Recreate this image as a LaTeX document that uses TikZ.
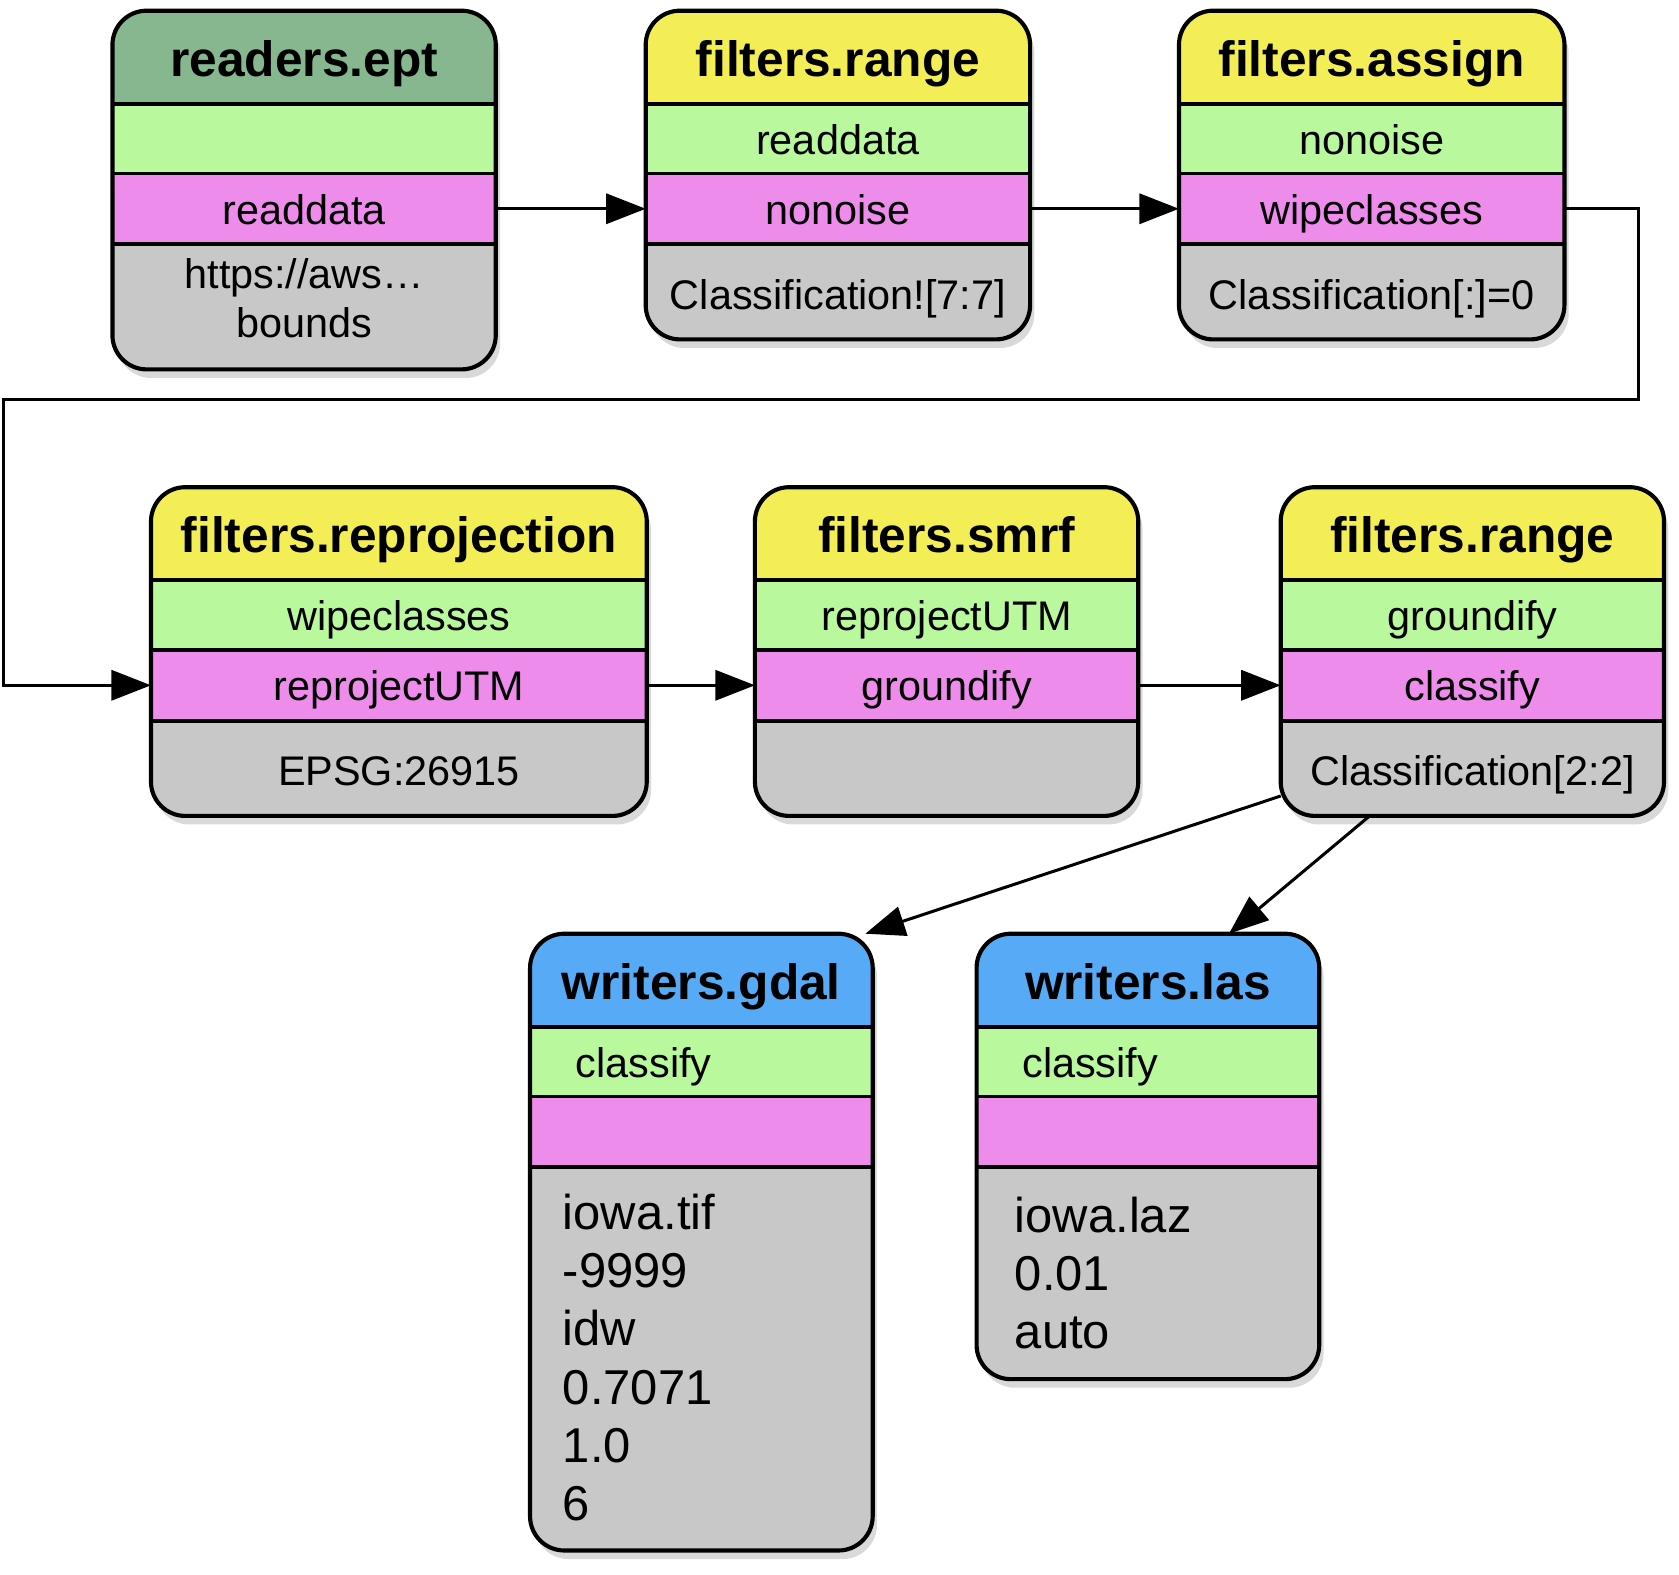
\documentclass[tikz,border=0pt]{standalone}
\usepackage{fontspec}
\setmainfont{Liberation Sans}
\usetikzlibrary{positioning}
\usetikzlibrary{shadows}
\usetikzlibrary{arrows.meta}
\definecolor{readhead}{RGB}{134,183,143}
\definecolor{filthead}{RGB}{244,238,86}
\definecolor{writhead}{RGB}{86,170,246}
\definecolor{ingreen}{RGB}{185,248,157}
\definecolor{outpink}{RGB}{238,140,236}
\definecolor{optgray}{RGB}{200,200,200}
\tikzset{ stage/.style = {rectangle, rounded corners=0.32cm, fill=white, inner sep=0pt, outer sep=0pt,
    drop shadow={shadow xshift=0.04cm, shadow yshift=-0.08cm, opacity=0.3}} }
\tikzset{ stageline/.style = {rectangle, rounded corners=0.32cm, draw, line width=1.1pt, inner sep=0pt, outer sep=0pt} }
\tikzset{ band/.style = {rectangle, draw, line width=1pt, inner sep=0pt, outer sep=0pt, align=center,
    font=\fontsize{11}{13}\selectfont, text height=8.4pt, text depth=0.2pt} }
\tikzset{ head/.style = {font=\fontsize{13.2}{15}\selectfont\bfseries, text height=10pt, text depth=0pt} }
\tikzset{ optband/.style = {text height=9.4pt, text depth=0pt} }
\tikzset{ cell/.style = {inner sep=0pt, font=\fontsize{11}{13}\selectfont, text height=8.4pt, text depth=0.2pt} }
\tikzset{ optlist/.style = {inner sep=0pt, align=left, font=\fontsize{13}{15.5}\selectfont} }
\tikzset{ flow/.style = {-{Triangle[length=10.5pt,width=8pt]}, line width=0.8pt} }
% #1 name, #2 top left, #3 width, #4 head colour, #5 title, #6 in, #7 out, #8 gray height, #9 gray text
\newcommand{\stagebox}[9]{%
  \node[stage, minimum width=#3, minimum height=2.18cm+#8, anchor=north west] (#1) at #2 {};
  \begin{scope}
    \clip[rounded corners=0.32cm] (#1.south west) rectangle (#1.north east);
    \node[band, head, fill=#4, minimum width=#3, minimum height=0.87cm, anchor=north west] (#1-h) at #2 {#5};
    \node[band, fill=ingreen, minimum width=#3, minimum height=0.65cm, below=0pt of #1-h] (#1-i) {#6};
    \node[band, fill=outpink, minimum width=#3, minimum height=0.66cm, below=0pt of #1-i] (#1-o) {#7};
    \node[band, optband, fill=optgray, minimum width=#3, minimum height=#8, below=0pt of #1-o] (#1-g) {#9};
  \end{scope}
  \node[stageline, minimum width=#3, minimum height=2.18cm+#8, anchor=north west] at #2 {};
}
\begin{document}
\begin{tikzpicture}
\useasboundingbox (0,0) rectangle (15.68,14.70);
% first row
\stagebox{re}{(1.05,14.60)}{3.58cm}{readhead}{readers.ept}{}{readdata}{1.17cm}{}
\stagebox{ra}{(6.03,14.60)}{3.59cm}{filthead}{filters.range}{readdata}{nonoise}{0.89cm}{Classification![7:7]}
\stagebox{as}{(11.01,14.60)}{3.60cm}{filthead}{filters.assign}{nonoise}{wipeclasses}{0.89cm}{Classification[:]=0}
\node[inner sep=0pt, align=center, font=\fontsize{11}{13}\selectfont, yshift=0.08cm] (re-gt) at (re-g) {https://aws…\\bounds};
% second row
\stagebox{rp}{(1.41,10.15)}{4.63cm}{filthead}{filters.reprojection}{wipeclasses}{reprojectUTM}{0.89cm}{EPSG:26915}
\stagebox{sm}{(7.05,10.15)}{3.58cm}{filthead}{filters.smrf}{reprojectUTM}{groundify}{0.89cm}{}
\stagebox{rg}{(11.96,10.15)}{3.58cm}{filthead}{filters.range}{groundify}{classify}{0.89cm}{Classification[2:2]}
% writers
\stagebox{gd}{(4.95,5.98)}{3.20cm}{writhead}{writers.gdal}{}{}{3.58cm}{}
\stagebox{wl}{(9.12,5.98)}{3.20cm}{writhead}{writers.las}{}{}{1.98cm}{}
\node[cell, right=0.42cm of gd-i.west] (gd-it) {classify};
\node[cell, right=0.42cm of wl-i.west] (wl-it) {classify};
\node[optlist, below right=0.24cm and 0.30cm of gd-g.north west] (gd-gt) {iowa.tif\\-9999\\idw\\0.7071\\1.0\\6};
\node[optlist, below right=0.27cm and 0.35cm of wl-g.north west] (wl-gt) {iowa.laz\\0.01\\auto};
% connectors
\coordinate (loopR) at (15.30,10.97);
\coordinate (loopL) at (0.03,10.97);
\draw[flow] (re-o.east) -- (ra-o.west);
\draw[flow] (ra-o.east) -- (as-o.west);
\draw[flow] (as-o.east) -| (loopR) -- (loopL) |- (rp-o.west);
\draw[flow] (rp-o.east) -- (sm-o.west);
\draw[flow] (sm-o.east) -- (rg-o.west);
\draw[flow] (rg.217) -- (gd.62);
\draw[flow] (rg.238) -- (wl.70);
\end{tikzpicture}
\end{document}
